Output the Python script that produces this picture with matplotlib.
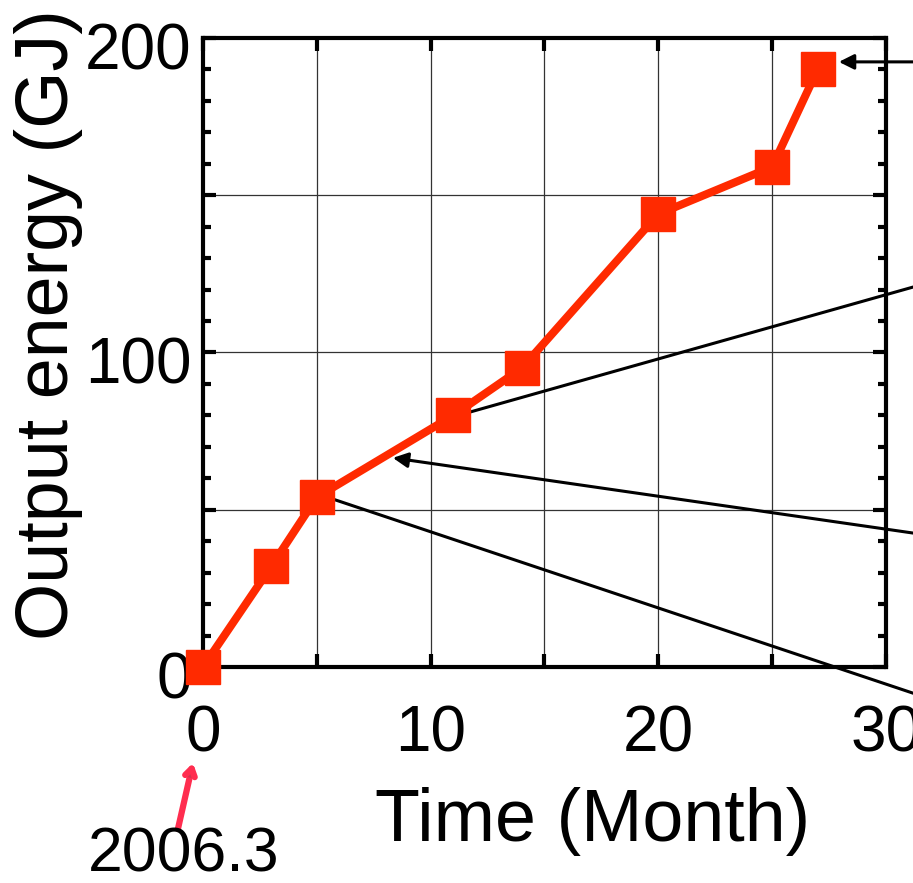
import matplotlib.pyplot as plt
import matplotlib.patheffects as pe
from matplotlib.ticker import MultipleLocator
from matplotlib.transforms import ScaledTranslation

plt.rcParams['font.family'] = ['Liberation Sans', 'DejaVu Sans']

# Cumulative output energy vs. months since 2006.3
months = [0, 3, 5, 11, 14, 20, 25, 27]
energy = [0, 32, 54, 80, 95, 144, 159, 190]

x_ticks = [0, 5, 10, 15, 20, 25, 30]
x_labels = ['0', '', '10', '', '20', '', '30']
y_ticks = [0, 50, 100, 150, 200]
y_labels = ['0', '', '100', '', '200']

fig = plt.figure(figsize=(9.13, 8.83), dpi=100)
ax = fig.add_axes([0.2223, 0.2446, 0.7481, 0.7124])

ax.plot(months, energy, color='#ff2a00', lw=5.8, marker='s', ms=24.5,
        mec='#ff2a00', mfc='#ff2a00', clip_on=False, zorder=5)

ax.set_xlim(0, 30)
ax.set_ylim(0, 200)
ax.set_xticks(x_ticks)
ax.set_xticklabels(x_labels)
ax.set_yticks(y_ticks)
ax.set_yticklabels(y_labels)
ax.yaxis.set_minor_locator(MultipleLocator(10))

ax.grid(True, which='major', color='0.2', lw=0.9)
ax.tick_params(which='both', direction='in', top=True, right=True,
               width=3, labelsize=46)
ax.tick_params(which='major', length=9.5)
ax.tick_params(which='minor', length=5.5)
ax.tick_params(axis='x', pad=27)
ax.tick_params(axis='y', pad=8)
for lab in ax.get_yticklabels():
    lab.set_transform(lab.get_transform() + ScaledTranslation(0, -0.08, fig.dpi_scale_trans))
for sp in ax.spines.values():
    sp.set_linewidth(3)

ax.set_xlabel('Time (Month)', fontsize=53)
ax.xaxis.set_label_coords(0.57, -0.19)
ax.set_ylabel('Output energy (GJ)', fontsize=53)
ax.yaxis.set_label_coords(-0.176, 0.544)

# callout lines running off to the right
arrow_kw = dict(arrowstyle='-|>,head_length=0.9,head_width=0.45', color='black',
                lw=2.2, shrinkA=0, shrinkB=0)
line_kw = dict(arrowstyle='-', color='black', lw=2.2, shrinkA=0, shrinkB=0)
ax.annotate('', xy=(27.93, 192.4), xytext=(33, 192.4), arrowprops=arrow_kw,
            annotation_clip=False, zorder=6)
ax.annotate('', xy=(11.6, 80.8), xytext=(33, 124.5), arrowprops=line_kw,
            annotation_clip=False, zorder=4)
ax.annotate('', xy=(8.34, 66.5), xytext=(33, 40.7), arrowprops=arrow_kw,
            annotation_clip=False, zorder=4)
ax.annotate('', xy=(5.58, 53.7), xytext=(33, -12.7), arrowprops=line_kw,
            annotation_clip=False, zorder=4)

# start date marker under the origin
red_kw = dict(arrowstyle='->,head_length=0.55,head_width=0.35', color='#ff2d4f',
              lw=4.5, shrinkA=0, shrinkB=0, capstyle='round', joinstyle='round',
              path_effects=[pe.withSimplePatchShadow(offset=(1.5, -1.5), alpha=0.25)])
ax.annotate('', xy=(-0.44, -30.5), xytext=(-1.1, -51.5), arrowprops=red_kw,
            annotation_clip=False)
ax.text(-0.83, -59.8, '2006.3', fontsize=45, ha='center', va='center', clip_on=False)

fig.savefig('out.png', dpi=100)
